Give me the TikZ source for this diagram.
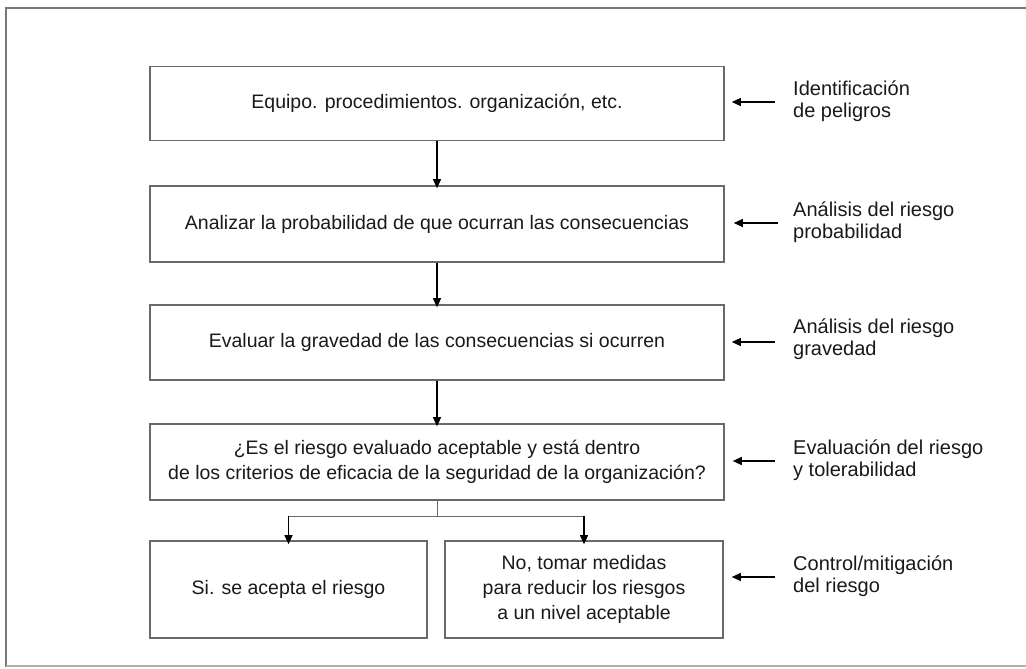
\documentclass[tikz,border=0pt]{standalone}
\usepackage{fontspec}
\setmainfont{Liberation Sans}
\usetikzlibrary{arrows.meta}
\definecolor{boxline}{RGB}{105,105,105}
\definecolor{frameline}{RGB}{120,120,120}
\definecolor{txt}{RGB}{25,25,25}
\tikzset{
  stepbox/.style={draw=boxline, line width=1.6pt, text=txt, align=center,
    inner sep=0pt, font=\fontsize{19.5}{25}\selectfont},
  sidelabel/.style={anchor=west, align=left, text=txt, inner sep=0pt,
    font=\fontsize{20}{21.5}\selectfont},
  arr/.style={line width=1.2pt, draw=black, -{Triangle[length=9pt,width=8pt]}},
  flow/.style={line width=1pt, draw=boxline},
}
\begin{document}
\begin{tikzpicture}[x=1pt,y=-1pt]
\useasboundingbox (0,0) rectangle (1026,669);
% frame
\draw[frameline, line width=1.6pt] (6,667) -- (6,8) -- (1026,8);
\draw[frameline!60, line width=1.6pt] (6,666) -- (1026,666);
% boxes
\node[stepbox, minimum width=574pt, minimum height=74pt] (b1) at (437,103.5) {Equipo. procedimientos. organización, etc.};
\node[stepbox, minimum width=574pt, minimum height=76pt] (b2) at (437,224) {Analizar la probabilidad de que ocurran las consecuencias};
\node[stepbox, minimum width=574pt, minimum height=75pt] (b3) at (437,342.5) {Evaluar la gravedad de las consecuencias si ocurren};
\node[stepbox, minimum width=574pt, minimum height=76pt] (b4) at (437,462) {¿Es el riesgo evaluado aceptable y está dentro\\de los criterios de eficacia de la seguridad de la organización?};
\node[stepbox, minimum width=277pt, minimum height=97pt] (b5) at (288.5,589.5) {Si. se acepta el riesgo};
\node[stepbox, minimum width=278pt, minimum height=97pt] (b6) at (584,589.5) {No, tomar medidas\\para reducir los riesgos\\a un nivel aceptable};
% vertical flow
\draw[arr] (b1.south) -- ([yshift=-3pt]b2.north);
\draw[arr] (b2.south) -- ([yshift=-3pt]b3.north);
\draw[arr] (b3.south) -- ([yshift=-3pt]b4.north);
\coordinate (split) at (437,516);
\draw[flow] (b4.south) -- (split);
\draw[flow] (b5.north |- split) -- (b6.north |- split);
\draw[arr] (b5.north |- split) -- ([yshift=-4pt]b5.north);
\draw[arr] (b6.north |- split) -- ([yshift=-4pt]b6.north);
% side labels
\node[sidelabel] (l1) at (793,101) {Identificación\\de peligros};
\node[sidelabel] (l2) at (793,222) {Análisis del riesgo\\probabilidad};
\node[sidelabel] (l3) at (793,339) {Análisis del riesgo\\gravedad};
\node[sidelabel] (l4) at (793,460) {Evaluación del riesgo\\y tolerabilidad};
\node[sidelabel] (l5) at (793,576) {Control/mitigación\\del riesgo};
% side arrows
\coordinate (a1) at (775,102);
\coordinate (a2) at (778,223);
\coordinate (a3) at (775,342);
\coordinate (a4) at (775,461);
\coordinate (a5) at (775,577);
\draw[arr] (a1) -- ([xshift=7pt]a1 -| b1.east);
\draw[arr] (a2) -- ([xshift=9pt]a2 -| b2.east);
\draw[arr] (a3) -- ([xshift=7pt]a3 -| b3.east);
\draw[arr] (a4) -- ([xshift=8pt]a4 -| b4.east);
\draw[arr] (a5) -- ([xshift=8pt]a5 -| b6.east);
\end{tikzpicture}
\end{document}
